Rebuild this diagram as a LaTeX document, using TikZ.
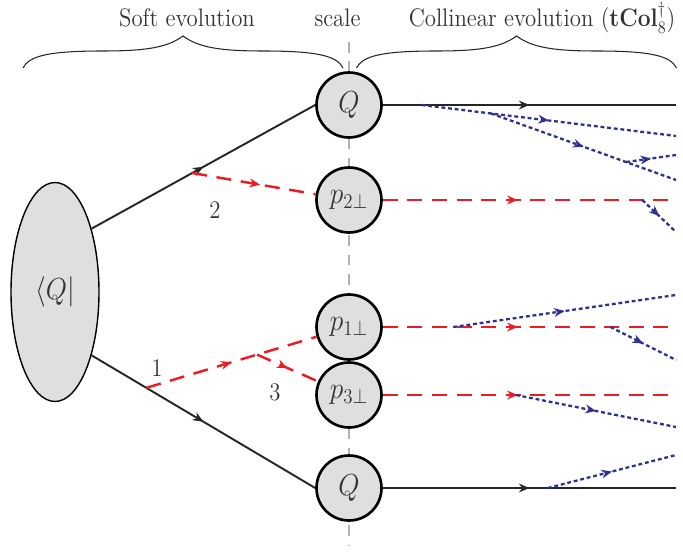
\documentclass[tikz,border=0pt]{standalone}
\usepackage{amsmath,amssymb}
\usepackage{xcolor}
\usepackage{tikz}
\usetikzlibrary{calc}
\usetikzlibrary{arrows.meta,decorations.markings,shapes.geometric}

\definecolor{softred}{RGB}{237,28,36}
\definecolor{collblue}{RGB}{46,49,146}
\newcommand{\slim}[1]{\scalebox{0.9}[1]{#1}}

\begin{document}
\begin{tikzpicture}[
  hard/.style={black!85,line width=1.1pt},
  soft/.style={softred,line width=1.4pt,dash pattern=on 8.5pt off 5.5pt},
  coll/.style={collblue,line width=1.3pt,dash pattern=on 2.2pt off 1.6pt},
  midarrow/.style={postaction={decorate,decoration={markings,
      mark=at position #1 with {\arrow{Stealth[length=6pt,width=5pt]}}}}},
  midarrow/.default=0.5,
  blob/.style={circle,draw,line width=1.5pt,fill=gray!25,minimum size=1.3cm,
      inner sep=0pt,font=\LARGE,text=black!80},
  lbl/.style={font=\Large,text=black!80},
  brc/.style={black!85,line width=0.6pt}
]
\useasboundingbox (0,0) rectangle (13.66,11.08);

% Scale line
\draw[gray!60,line width=0.7pt,dash pattern=on 6pt off 5pt] (6.98,10.24) -- (6.98,0.18);

% Headers and braces
\node[lbl,anchor=base] (softtxt) at (3.74,10.54) {\slim{Soft evolution}};
\node[lbl,anchor=base] (scaletxt) at (6.75,10.54) {\slim{scale}};
\node[lbl,anchor=base] (colltxt) at (10.84,10.54) {\slim{Collinear evolution ($\mathbf{tCol}_8^{\dagger}$)}};
\foreach \bx in {0.46,7.13}
  \draw[brc,shift={(\bx,9.72)}] (0,0) .. controls (0.12,0.24) and (0.5,0.34) .. (1.6,0.34)
    .. controls (2.5,0.34) and (2.9,0.42) .. (3.2,0.64)
    .. controls (3.5,0.42) and (3.9,0.34) .. (4.8,0.34)
    .. controls (5.9,0.34) and (6.28,0.24) .. (6.4,0);

% Initial state and hard scales
\node[ellipse,draw,line width=0.8pt,fill=gray!25,minimum width=1.76cm,minimum height=4.38cm,
  font=\LARGE,text=black!80] (ell) at (1.10,5.24) {\slim{$\langle Q|$}};
\node[blob] (qa) at (6.98,8.98) {\slim{$Q$}};
\node[blob] (p2) at (6.98,7.08) {\slim{$p_{2\perp}$}};
\node[blob] (p1) at (6.98,4.54) {\slim{$p_{1\perp}$}};
\node[blob] (p3) at (6.98,3.18) {\slim{$p_{3\perp}$}};
\node[blob] (qb) at (6.98,1.32) {\slim{$Q$}};

% Soft evolution
\draw[hard,midarrow] (ell.60) -- (qa.west) coordinate[pos=0.45] (v2);
\draw[hard,midarrow] (ell.-60) -- (qb.west) coordinate[pos=0.245] (v1);
\draw[soft,midarrow=0.55] (v2) -- (p2);
\draw[soft,midarrow] (v1) -- (p1) coordinate[pos=0.65] (v3);
\draw[soft,midarrow] (v3) -- (p3);
\node[lbl] (n2) at (4.30,6.88) {\slim{2}};
\node[lbl] (n1) at (3.14,3.72) {\slim{1}};
\node[lbl] (n3) at (5.50,3.24) {\slim{3}};

% Collinear evolution
\coordinate (ea) at (13.52,8.98);
\coordinate (ep2) at (13.52,7.08);
\coordinate (ep1) at (13.52,4.54);
\coordinate (ep3) at (13.52,3.18);
\coordinate (eb) at (13.52,1.32);
\draw[hard,midarrow] (qa) -- (ea) coordinate[pos=0.132] (ca);
\draw[soft,midarrow=0.46] (p2) -- (ep2) coordinate[pos=0.885] (cd);
\draw[soft,midarrow=0.46] (p1) -- (ep1) coordinate[pos=0.24] (ce) coordinate[pos=0.776] (cf);
\draw[soft,midarrow=0.46] (p3) -- (ep3) coordinate[pos=0.454] (cg);
\draw[hard,midarrow] (qb) -- (eb) coordinate[pos=0.563] (ch);

\coordinate (ec1) at (13.52,8.36);
\coordinate (ec2) at (13.52,7.48);
\coordinate (ec3) at (13.52,7.98);
\coordinate (ec4) at (13.52,6.44);
\coordinate (ec5) at (13.52,5.18);
\coordinate (ec6) at (13.52,3.88);
\coordinate (ec7) at (13.52,2.54);
\coordinate (ec8) at (13.52,1.98);
\draw[coll,midarrow] (ca) -- (ec1) coordinate[pos=0.273] (cb);
\draw[coll,midarrow] (cb) -- (ec2) coordinate[pos=0.73] (cc);
\draw[coll,midarrow] (cc) -- (ec3);
\draw[coll,midarrow] (cd) -- (ec4);
\draw[coll,midarrow] (ce) -- (ec5);
\draw[coll,midarrow] (cf) -- (ec6);
\draw[coll,midarrow] (cg) -- (ec7);
\draw[coll,midarrow] (ch) -- (ec8);
\end{tikzpicture}
\end{document}
